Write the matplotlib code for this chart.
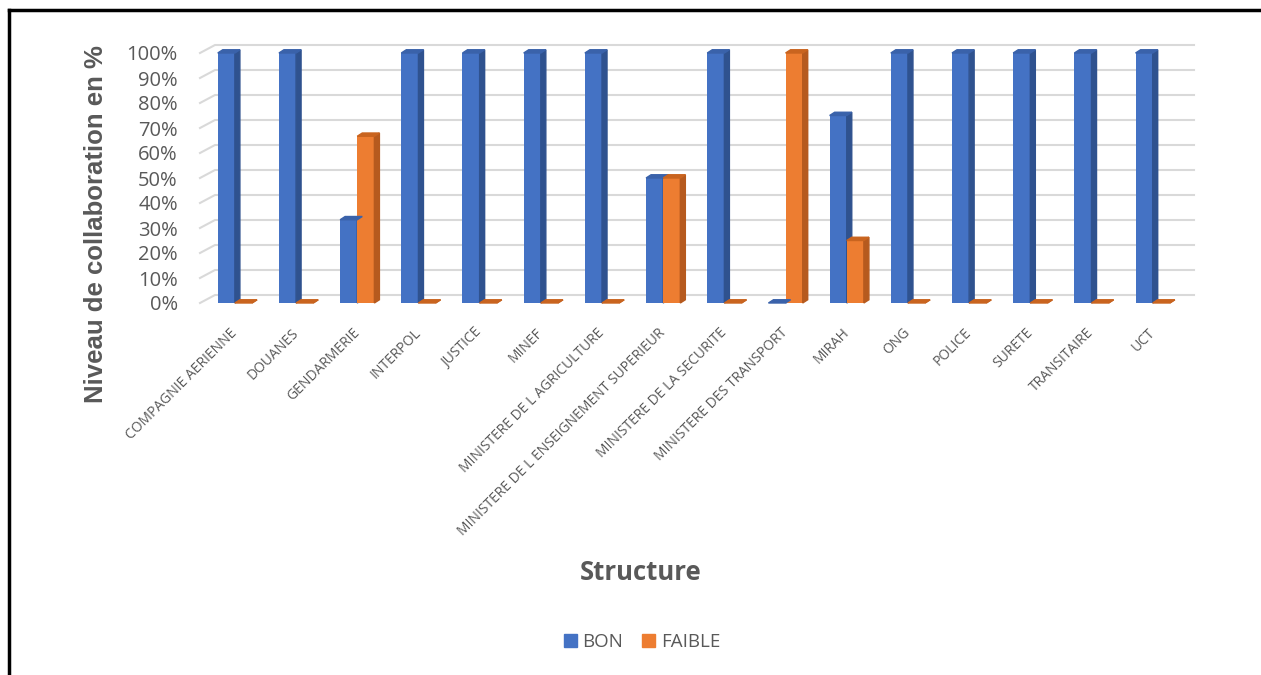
import matplotlib
matplotlib.use("Agg")
import matplotlib.pyplot as plt
from matplotlib.patches import Polygon, Patch
from matplotlib.lines import Line2D

structures = ["COMPAGNIE AERIENNE", "DOUANES", "GENDARMERIE", "INTERPOL", "JUSTICE",
              "MINEF", "MINISTERE DE L AGRICULTURE", "MINISTERE DE L ENSEIGNEMENT SUPERIEUR",
              "MINISTERE DE LA SECURITE", "MINISTERE DES TRANSPORT", "MIRAH", "ONG",
              "POLICE", "SURETE", "TRANSITAIRE", "UCT"]
bon = [100, 100, 33.3, 100, 100, 100, 100, 50, 100, 0, 75, 100, 100, 100, 100, 100]
faible = [0, 0, 66.7, 0, 0, 0, 0, 50, 0, 100, 25, 0, 0, 0, 0, 0]
y_ticks = list(range(0, 101, 10))

grey = "#595959"
bw = 0.28          # bar width (category units)
bdx, bdy = 0.082, 1.3    # bar depth
wdx, wdy = 0.245, 3.2    # back wall depth

fig = plt.figure(figsize=(12.61, 6.75), dpi=100)
ax = fig.add_axes([200 / 1261, 1 - 303 / 675, 979 / 1261, 250 / 675])
ax.set_xlim(-0.57, 15.43)
ax.set_ylim(0, 100)

x0, x1 = ax.get_xlim()
for v in y_ticks:
    ax.plot([x0, x0 + wdx, x1 + wdx], [v, v + wdy, v + wdy], color="#d9d9d9",
            lw=1.5, zorder=0, clip_on=False)


def bar3d(xl, v, front, side, top):
    ax.bar(xl, v, width=bw, align="edge", color=front, zorder=3)
    xr = xl + bw
    ax.add_patch(Polygon([(xr, 0), (xr + bdx, bdy), (xr + bdx, v + bdy), (xr, v)],
                         closed=True, color=side, zorder=3, clip_on=False))
    ax.add_patch(Polygon([(xl, v), (xr, v), (xr + bdx, v + bdy), (xl + bdx, v + bdy)],
                         closed=True, color=top, zorder=4, clip_on=False))


for i in range(len(structures)):
    bar3d(i - bw, bon[i], "#4472C4", "#2F528F", "#3A62AA")
    bar3d(i, faible[i], "#ED7D31", "#B65A1E", "#C9641F")

for s in ax.spines.values():
    s.set_visible(False)
ax.set_yticks(y_ticks)
ax.set_yticklabels([f"{v}%" for v in y_ticks], fontsize=14.5, color=grey, family="Open Sans")
ax.set_xticks(range(len(structures)))
ax.set_xticklabels(structures, rotation=45, ha="right", va="center",
                   rotation_mode="anchor", fontsize=10, color=grey, family="Open Sans")
ax.tick_params(axis="y", length=0, pad=16)
ax.tick_params(axis="x", length=0, pad=20)

fig.text(96 / 1261, 1 - 224 / 675, "Niveau de collaboration en %", rotation=90,
         ha="center", va="center", fontsize=18.5, fontweight="bold", color=grey,
         family="Liberation Sans")
fig.text(641 / 1261, 1 - 573 / 675, "Structure", ha="center", va="center",
         fontsize=18.5, fontweight="bold", color=grey, family="Open Sans")

handles = [Patch(color="#4472C4", label="BON"), Patch(color="#ED7D31", label="FAIBLE")]
fig.legend(handles=handles, loc="center", bbox_to_anchor=(642 / 1261, 1 - 642 / 675),
           ncol=2, frameon=False, handlelength=0.7, handleheight=0.7, handletextpad=0.3,
           columnspacing=1.0, prop={"family": "Open Sans", "size": 13.5}, labelcolor=grey)

# black frame (left and top edges visible)
fig.add_artist(Line2D([9 / 1261, 9 / 1261], [0, 1 - 10 / 675], color="black", lw=2.5))
fig.add_artist(Line2D([9 / 1261, 1], [1 - 10 / 675, 1 - 10 / 675], color="black", lw=2.5))

fig.savefig("out.png", dpi=100)
